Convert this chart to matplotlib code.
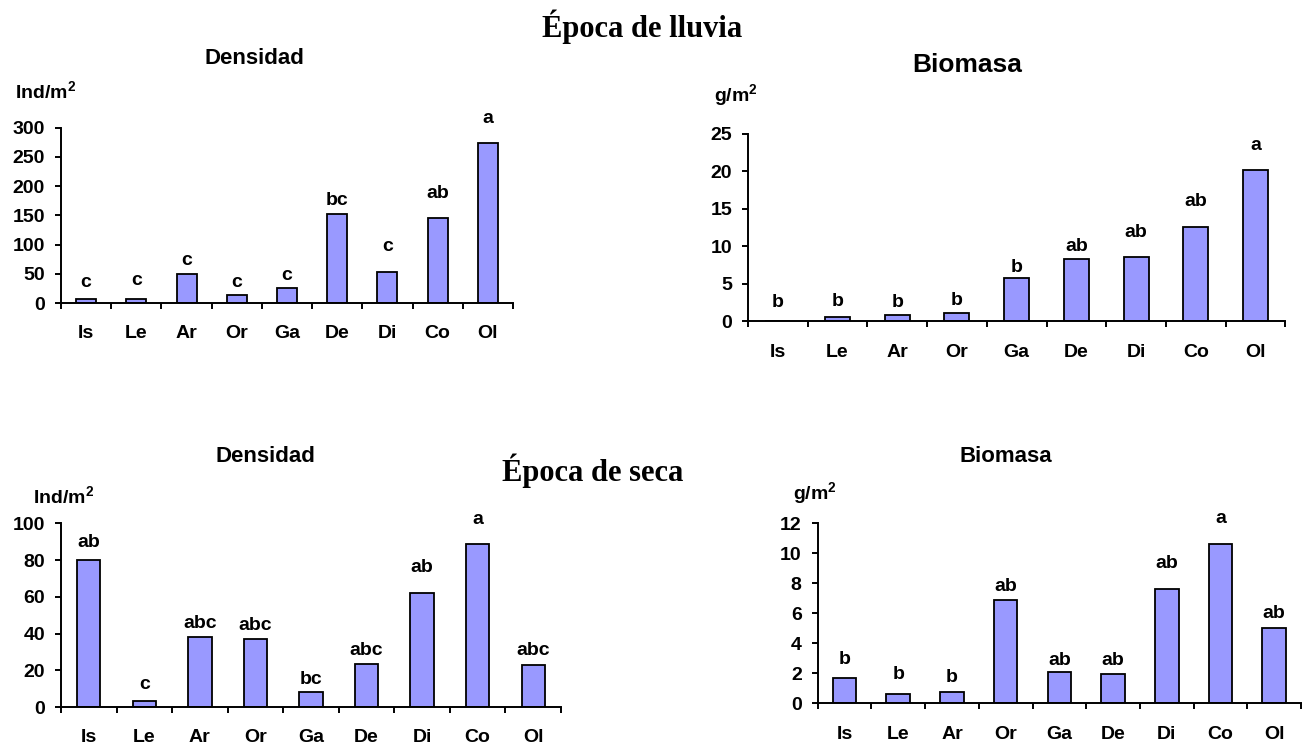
# Epoca de lluvia / Epoca de seca - densidad y biomasa por grupo

import numpy as np
import matplotlib
matplotlib.use("Agg")
import matplotlib.pyplot as plt

plt.rcParams["font.family"] = ["Liberation Sans", "DejaVu Sans"]
plt.rcParams["font.weight"] = "bold"
plt.rcParams["mathtext.fontset"] = "custom"
plt.rcParams["mathtext.rm"] = "Liberation Sans:bold"
plt.rcParams["mathtext.bf"] = "Liberation Sans:bold"
plt.rcParams["mathtext.default"] = "bf"

Grupos = ["Is", "Le", "Ar", "Or", "Ga", "De", "Di", "Co", "Ol"]

# Epoca de lluvia
Lluvia_Densidad = [7, 7, 49, 13, 26, 152, 52.5, 145, 274]
Lluvia_Densidad_Letras = ["c", "c", "c", "c", "c", "bc", "c", "ab", "a"]
Lluvia_Biomasa = [0, 0.55, 0.78, 1.05, 5.7, 8.25, 8.5, 12.6, 20.1]
Lluvia_Biomasa_Letras = ["b", "b", "b", "b", "b", "ab", "ab", "ab", "a"]

# Epoca de seca
Seca_Densidad = [80, 3.3, 38, 37, 8.4, 23.2, 62.2, 88.7, 23]
Seca_Densidad_Letras = ["ab", "c", "abc", "abc", "bc", "abc", "ab", "a", "abc"]
Seca_Biomasa = [1.68, 0.64, 0.78, 6.87, 2.07, 1.96, 7.62, 10.62, 5.04]
Seca_Biomasa_Letras = ["b", "b", "b", "ab", "ab", "ab", "ab", "a", "ab"]

# altura (en unidades del eje) donde va cada letra
Lluvia_Densidad_Letras_Y = [35, 39, 72, 35, 47, 176, 96, 188, 316]
Lluvia_Biomasa_Letras_Y = [2.5, 2.67, 2.45, 2.72, 7.17, 10.0, 11.8, 15.95, 23.4]
Seca_Densidad_Letras_Y = [89.5, 12.5, 45.2, 44.5, 14.7, 30.7, 76.0, 102.2, 30.9]
Seca_Biomasa_Letras_Y = [2.89, 1.89, 1.71, 7.78, 2.84, 2.84, 9.29, 12.29, 6.0]

W, H = 1311, 749
Bar_Color = "#9999FF"
Font_Size = 14


def fx(x):
    return x / W


def fy(y):
    return 1 - y / H


def draw_panel(fig, box, values, letters, letters_y, ymax, ystep, bar_width):
    left, top, right, bottom = box
    ax = fig.add_axes([fx(left), fy(bottom), (right - left) / W, (bottom - top) / H])
    x = np.arange(len(Grupos))
    ax.bar(x, values, width= bar_width, color= Bar_Color, edgecolor= "black", linewidth= 1.3, zorder= 2)
    for i, (let, ly) in enumerate(zip(letters, letters_y)):
        ax.text(i, ly, let, ha= "center", va= "center", fontsize= Font_Size,
                fontweight= "bold", clip_on= False)

    ax.set_xlim(-0.5, len(Grupos) - 0.5)
    ax.set_ylim(0, ymax)
    ax.set_yticks(np.arange(0, ymax + ystep / 2, ystep))
    ax.set_xticks(np.arange(-0.5, len(Grupos)), labels= [])
    ax.set_xticks(x, labels= Grupos, minor= True)

    for s in ["top", "right"]:
        ax.spines[s].set_visible(False)
    for s in ["left", "bottom"]:
        ax.spines[s].set_linewidth(1.4)

    ax.tick_params(axis= "y", direction= "out", length= 4.5, width= 1.4, pad= 7, labelsize= Font_Size)
    ax.tick_params(axis= "x", which= "major", direction= "out", length= 4.5, width= 1.4)
    ax.tick_params(axis= "x", which= "minor", length= 0, pad= 16, labelsize= Font_Size)
    for lab in ax.get_yticklabels() + ax.get_xticklabels(minor= True):
        lab.set_fontweight("bold")
    ax.patch.set_alpha(0)
    return ax


fig = plt.figure(figsize= (W / 100, H / 100), dpi= 100)

draw_panel(fig, (61, 127.7, 513, 303), Lluvia_Densidad, Lluvia_Densidad_Letras,
           Lluvia_Densidad_Letras_Y, 300, 50, 0.4)
draw_panel(fig, (748, 133.5, 1285.3, 321.3), Lluvia_Biomasa, Lluvia_Biomasa_Letras,
           Lluvia_Biomasa_Letras_Y, 25, 5, 0.42)
draw_panel(fig, (61, 523.3, 561, 707), Seca_Densidad, Seca_Densidad_Letras,
           Seca_Densidad_Letras_Y, 100, 20, 0.42)
draw_panel(fig, (817.7, 523.3, 1301, 703.3), Seca_Biomasa, Seca_Biomasa_Letras,
           Seca_Biomasa_Letras_Y, 12, 2, 0.44)

# titulos
serif = ["Liberation Serif", "DejaVu Serif"]
fig.text(fx(642), fy(27), "Época de lluvia", family= serif, fontsize= 22, fontweight= "bold",
         ha= "center", va= "center")
fig.text(fx(593), fy(471), "Época de seca", family= serif, fontsize= 22, fontweight= "bold",
         ha= "center", va= "center")

fig.text(fx(254), fy(59), "Densidad", fontsize= 16, fontweight= "bold", ha= "center", va= "center")
fig.text(fx(967), fy(65), "Biomasa", fontsize= 19, fontweight= "bold", ha= "center", va= "center")
fig.text(fx(265), fy(457), "Densidad", fontsize= 16, fontweight= "bold", ha= "center", va= "center")
fig.text(fx(1006), fy(457), "Biomasa", fontsize= 16, fontweight= "bold", ha= "center", va= "center")

# unidades
fig.text(fx(15), fy(98), r"Ind/m$^{2}$", fontsize= Font_Size, fontweight= "bold", ha= "left", va= "baseline")
fig.text(fx(714), fy(101), r"g/m$^{2}$", fontsize= Font_Size, fontweight= "bold", ha= "left", va= "baseline")
fig.text(fx(33), fy(503), r"Ind/m$^{2}$", fontsize= Font_Size, fontweight= "bold", ha= "left", va= "baseline")
fig.text(fx(793), fy(499), r"g/m$^{2}$", fontsize= Font_Size, fontweight= "bold", ha= "left", va= "baseline")

plt.savefig("out.png", dpi= 100)
